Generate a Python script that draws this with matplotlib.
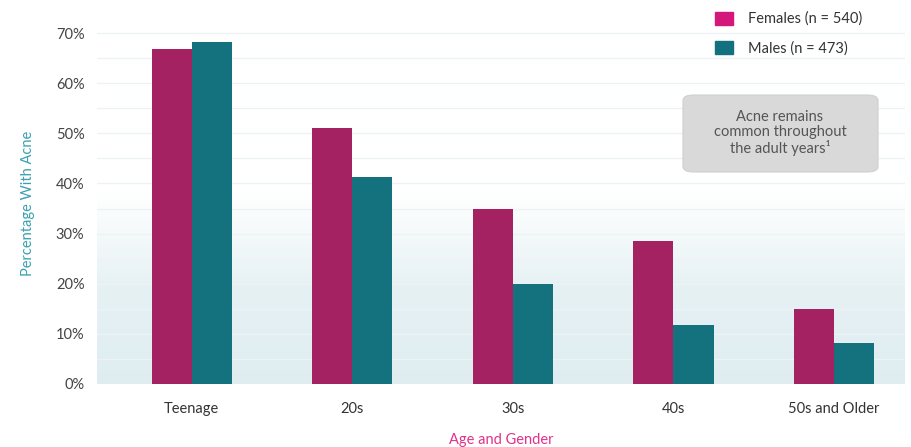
import numpy as np
import matplotlib
matplotlib.use("Agg")
import matplotlib.pyplot as plt
from matplotlib.patches import FancyBboxPatch, Rectangle
from matplotlib.colors import LinearSegmentedColormap

categories = ["Teenage", "20s", "30s", "40s", "50s and Older"]
females = [66.8, 51.1, 34.9, 28.5, 15.0]
males = [68.2, 41.3, 19.9, 11.8, 8.2]
yticks = [0, 10, 20, 30, 40, 50, 60, 70]
ytick_labels = ["0%", "10%", "20%", "30%", "40%", "50%", "60%", "70%"]
legend_labels = ["Females (n = 540)", "Males (n = 473)"]

plt.rcParams['font.family'] = ['Lato', 'DejaVu Sans']

fig = plt.figure(figsize=(9.11, 4.47), dpi=100)
ax = fig.add_axes([0.1065, 0.141, 0.8865, 0.8075])

x = np.arange(len(categories))
w = 0.25
ax.set_xlim(-0.59, 4.44)
ax.set_ylim(0, 72)

# background gradient
grad = np.linspace(0, 1, 256).reshape(-1, 1)
cmap = LinearSegmentedColormap.from_list("bg", ["#dfedf1", "#e6f1f4", "#ffffff"])
ax.imshow(grad, extent=[-0.59, 4.44, 0, 38], origin="lower", aspect="auto",
          cmap=cmap, zorder=0)

for yy in np.arange(5, 71, 5):
    ax.axhline(yy, color="#edf2f4", lw=1.0, zorder=1)

ax.bar(x - w/2, females, w, color="#A52262", zorder=3)
ax.bar(x + w/2, males, w, color="#13727D", zorder=3)

ax.set_yticks(yticks)
ax.set_yticklabels(ytick_labels, fontsize=10.5, color="#444444")
ax.set_xticks(x)
ax.set_xticklabels(categories, fontsize=10.5, color="#333333")
ax.tick_params(length=0, pad=9)
ax.tick_params(axis="x", pad=13)
for s in ax.spines.values():
    s.set_visible(False)

ax.set_ylabel("Percentage With Acne", fontsize=10.5, color="#3aa0b2", labelpad=15)
ax.set_xlabel("Age and Gender", fontsize=10.5, color="#e0338a", labelpad=12)

# legend
cols = ["#D4177A", "#13707F"]
for i, (lab, c) in enumerate(zip(legend_labels, cols)):
    yf = 0.9575 - i * 0.065
    fig.patches.append(Rectangle((715/911, yf - 0.013), 18/911, 0.028,
                                 transform=fig.transFigure, color=c))
    fig.text(748/911, yf, lab, fontsize=10.5, color="#333333", va="center")

# annotation box
box = FancyBboxPatch((683/911, 1 - 172/447), 195/911, 77/447,
                     boxstyle="round,pad=0,rounding_size=0.012",
                     transform=fig.transFigure, facecolor="#d9d9d9",
                     edgecolor="#d0d0d0", lw=0.8)
fig.patches.append(box)
fig.text(780/911, 1 - 133/447, "Acne remains\ncommon throughout\nthe adult years\u00b9",
         fontsize=10.5, color="#555555", ha="center", va="center", linespacing=1.05)

fig.savefig("out.png", dpi=100)
